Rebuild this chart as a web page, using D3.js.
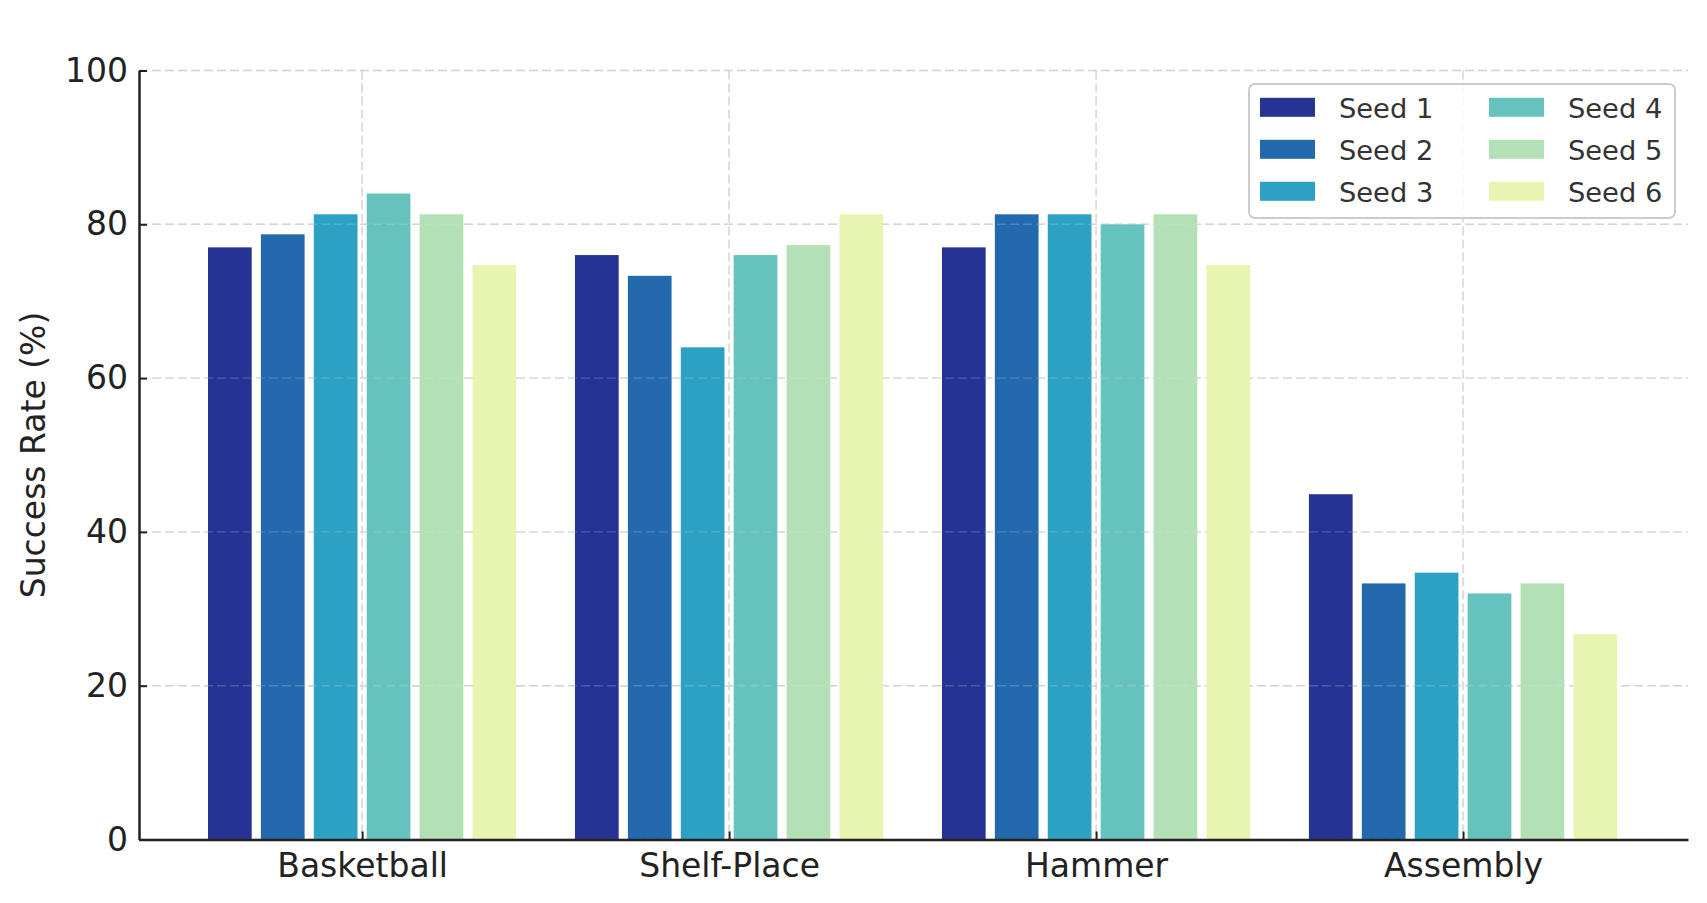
<!DOCTYPE html>
<html>
<head>
<meta charset="utf-8">
<script src="https://cdn.jsdelivr.net/npm/d3@7"></script>
<style>
  html, body { margin: 0; padding: 0; background: #ffffff; }
  svg { display: block; }
</style>
</head>
<body>
<svg id="chart" width="1707" height="903"></svg>
<script>
// ---- data ----
const categories = ["Basketball", "Shelf-Place", "Hammer", "Assembly"];
const seedNames = ["Seed 1", "Seed 2", "Seed 3", "Seed 4", "Seed 5", "Seed 6"];
const seed1 = [77.0, 76.0, 77.0, 44.9];
const seed2 = [78.7, 73.3, 81.3, 33.3];
const seed3 = [81.3, 64.0, 81.3, 34.7];
const seed4 = [84.0, 76.0, 80.0, 32.0];
const seed5 = [81.3, 77.3, 81.3, 33.3];
const seed6 = [74.7, 81.3, 74.7, 26.7];
const seriesValues = [seed1, seed2, seed3, seed4, seed5, seed6];
const yTicks = [0, 20, 40, 60, 80, 100];
const seedColors = ["#253494", "#2369ad", "#2ca1c4", "#66c2bd", "#b3e0b5", "#e8f5b0"];

(function () {
// ---- layout ----
const pLeft = 139, pRight = 1688, pTop = 70.5, pBottom = 839.5;
const svg = d3.select("#chart");
const font = "DejaVu Sans, sans-serif";

const x = d3.scaleLinear().domain([-0.608, 3.613]).range([pLeft, pRight]);
const inner = d3.scaleBand().domain(seedNames).range([-0.42, 0.42])
  .paddingInner(0.174).paddingOuter(0);
const y = d3.scaleLinear().domain([0, 100]).range([pBottom, pTop]);

function drawGrid(g, color, opacity) {
  g.selectAll("line.h").data(yTicks).join("line").attr("class", "h")
    .attr("x1", pLeft).attr("x2", pRight)
    .attr("y1", d => y(d)).attr("y2", d => y(d))
    .attr("stroke", color).attr("stroke-opacity", opacity)
    .attr("stroke-width", 1.4).attr("stroke-dasharray", "9,4");
  g.selectAll("line.v").data(categories.map((c, i) => i)).join("line").attr("class", "v")
    .attr("y1", pTop).attr("y2", pBottom)
    .attr("x1", d => x(d)).attr("x2", d => x(d))
    .attr("stroke", color).attr("stroke-opacity", opacity)
    .attr("stroke-width", 1.4).attr("stroke-dasharray", "9,4");
}
const gridBack = svg.append("g");
drawGrid(gridBack, "#d0d0d0", 1);

// bars
const rows = [];
seriesValues.forEach((vals, j) => {
  vals.forEach((v, i) => rows.push({ i, j, v }));
});
svg.append("g").selectAll("rect").data(rows).join("rect")
  .attr("x", d => x(d.i + inner(seedNames[d.j])))
  .attr("width", d => x(inner.bandwidth()) - x(0))
  .attr("y", d => y(d.v))
  .attr("height", d => y(0) - y(d.v))
  .attr("fill", d => seedColors[d.j]);

// faint grid over the bars
const gridFront = svg.append("g");
drawGrid(gridFront, "#e6e6e6", 0.22);

// axes
const yAxis = d3.axisLeft(y).tickValues(yTicks).tickSizeInner(-8).tickSizeOuter(0).tickPadding(11);
const gy = svg.append("g").attr("transform", `translate(${pLeft},0)`).call(yAxis);
const xAxis = d3.axisBottom(x).tickValues([0, 1, 2, 3]).tickFormat(i => categories[i])
  .tickSizeInner(-8).tickSizeOuter(0).tickPadding(14);
const gx = svg.append("g").attr("transform", `translate(0,${pBottom})`).call(xAxis);

[gx, gy].forEach(g => {
  g.select(".domain").attr("stroke", "#222").attr("stroke-width", 2.5);
  g.selectAll(".tick line").attr("stroke", "#222").attr("stroke-width", 2);
  g.selectAll(".tick text").attr("fill", "#222").style("font-family", font).style("font-size", "33px");
});

// y label
svg.append("text")
  .attr("transform", `translate(45,${(pTop + pBottom) / 2}) rotate(-90)`)
  .attr("text-anchor", "middle")
  .attr("fill", "#222")
  .style("font-family", font).style("font-size", "33px")
  .text("Success Rate (%)");

// legend
const lg = svg.append("g");
lg.append("rect")
  .attr("x", 1249).attr("y", 84).attr("width", 426).attr("height", 134)
  .attr("rx", 6).attr("ry", 6)
  .attr("fill", "#ffffff").attr("fill-opacity", 0.85)
  .attr("stroke", "#cccccc").attr("stroke-width", 2);
const items = lg.selectAll("g.item").data(seedNames).join("g")
  .attr("transform", (d, k) => `translate(${k < 3 ? 1260 : 1489},${107.3 + (k % 3) * 42})`);
items.append("rect")
  .attr("x", 0).attr("y", -9.5).attr("width", 55).attr("height", 19)
  .attr("fill", (d, k) => seedColors[k]);
items.append("text")
  .attr("x", 79).attr("y", 10.5)
  .attr("fill", "#333")
  .style("font-family", font).style("font-size", "27.3px")
  .text(d => d);
})();
</script>
</body>
</html>
